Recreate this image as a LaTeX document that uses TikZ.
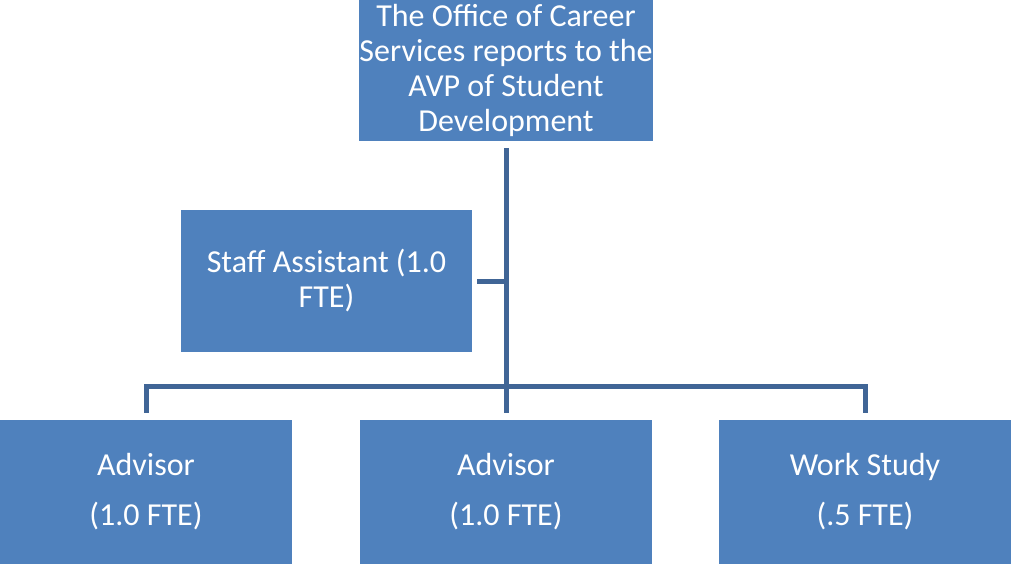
\documentclass[tikz,border=0pt]{standalone}
\usepackage{fontspec}
\setmainfont{Carlito}
\definecolor{boxfill}{RGB}{79,129,189}
\definecolor{linkcol}{RGB}{64,101,150}
\begin{document}
\begin{tikzpicture}[x=1pt,y=-1pt,
  orgbox/.style={fill=boxfill,draw=none,text=white,align=center,inner sep=0pt,
    font=\fontsize{32}{35}\selectfont},
  link/.style={draw=linkcol,line width=5pt,line cap=butt,line join=miter}]
\useasboundingbox (0,0) rectangle (1011,564);
% boxes
\node[orgbox,minimum width=292pt,minimum height=141pt] (office) at (506,70.5)
  {The Office of Career\\Services reports to the\\AVP of Student\\Development};
\node[orgbox,minimum width=291pt,minimum height=142pt] (staff) at (326.5,281)
  {Staff Assistant (1.0\\FTE)};
\node[orgbox,minimum width=292pt,minimum height=144pt] (adv1) at (146,492)
  {Advisor\\[15pt](1.0 FTE)};
\node[orgbox,minimum width=292pt,minimum height=144pt] (adv2) at (506,492)
  {Advisor\\[15pt](1.0 FTE)};
\node[orgbox,minimum width=292pt,minimum height=144pt] (work) at (865,492)
  {Work Study\\[15pt](.5 FTE)};
% junction points
\coordinate (trunktop) at ([yshift=-7pt]office.south);
\coordinate (bar) at (506,386);
\coordinate (staffend) at ([xshift=5pt]staff.east);
\coordinate (staffjoin) at (506,281);
% connectors
\draw[link] (trunktop) -- ([yshift=7pt]adv2.north);
\draw[link] (staffend) -- (staffjoin);
\draw[link] ([yshift=7pt]adv1.north) -- (adv1.north |- bar) -- (work.north |- bar) -- ([yshift=7pt]work.north);
\end{tikzpicture}
\end{document}
